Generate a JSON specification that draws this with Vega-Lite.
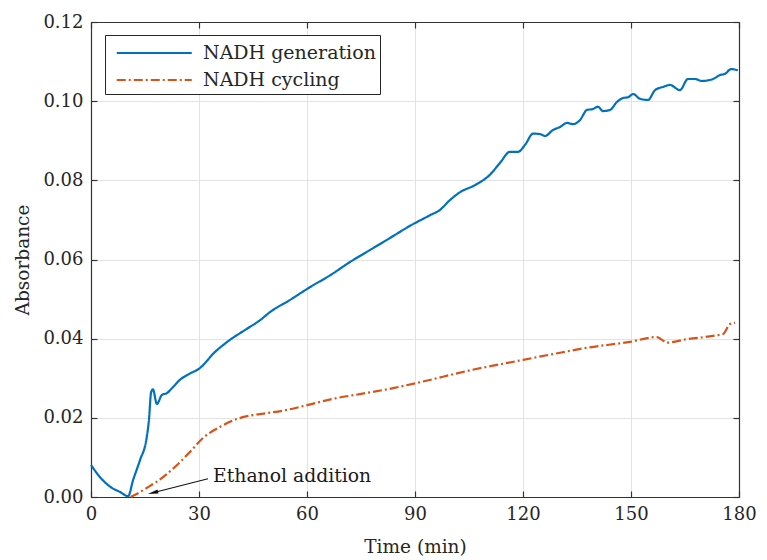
{
  "$schema": "https://vega.github.io/schema/vega-lite/v6.json",
  "width": 648,
  "height": 475,
  "autosize": {"type": "none"},
  "padding": {"left": 91, "top": 22, "right": 28, "bottom": 63},
  "config": {
    "font": "DejaVu Serif",
    "view": {"stroke": null},
    "axis": {
      "labelFont": "DejaVu Serif",
      "titleFont": "DejaVu Serif",
      "labelFontSize": 18,
      "titleFontSize": 18.5,
      "titleFontWeight": "normal",
      "labelColor": "#262626",
      "titleColor": "#262626",
      "domainColor": "#333333",
      "domainWidth": 1.2,
      "tickColor": "#333333",
      "tickWidth": 1.2,
      "tickSize": -6,
      "labelFlush": false,
      "gridColor": "#e3e3e3",
      "gridWidth": 1
    },
    "legend": {
      "labelFont": "DejaVu Serif",
      "labelFontSize": 19,
      "labelColor": "#262626",
      "labelLimit": 400
    }
  },
  "datasets": {
    "curves": [
      {"t": 0, "a": 0.0081, "s": "NADH generation"},
      {"t": 2.5, "a": 0.0050, "s": "NADH generation"},
      {"t": 5.8, "a": 0.0023, "s": "NADH generation"},
      {"t": 8, "a": 0.0013, "s": "NADH generation"},
      {"t": 10.3, "a": 0.0002, "s": "NADH generation"},
      {"t": 11.7, "a": 0.0043, "s": "NADH generation"},
      {"t": 13.6, "a": 0.0093, "s": "NADH generation"},
      {"t": 15.5, "a": 0.0152, "s": "NADH generation"},
      {"t": 16.1, "a": 0.0195, "s": "NADH generation"},
      {"t": 16.7, "a": 0.0265, "s": "NADH generation"},
      {"t": 17.2, "a": 0.0272, "s": "NADH generation"},
      {"t": 18.3, "a": 0.0235, "s": "NADH generation"},
      {"t": 19.7, "a": 0.0258, "s": "NADH generation"},
      {"t": 21, "a": 0.0262, "s": "NADH generation"},
      {"t": 22.8, "a": 0.0278, "s": "NADH generation"},
      {"t": 24.7, "a": 0.0296, "s": "NADH generation"},
      {"t": 27.5, "a": 0.0312, "s": "NADH generation"},
      {"t": 30, "a": 0.0324, "s": "NADH generation"},
      {"t": 34.4, "a": 0.0366, "s": "NADH generation"},
      {"t": 38.6, "a": 0.0397, "s": "NADH generation"},
      {"t": 42.8, "a": 0.0422, "s": "NADH generation"},
      {"t": 47, "a": 0.0447, "s": "NADH generation"},
      {"t": 49.7, "a": 0.0467, "s": "NADH generation"},
      {"t": 55.3, "a": 0.0498, "s": "NADH generation"},
      {"t": 60.8, "a": 0.0530, "s": "NADH generation"},
      {"t": 66.4, "a": 0.0560, "s": "NADH generation"},
      {"t": 72, "a": 0.0594, "s": "NADH generation"},
      {"t": 77.5, "a": 0.0624, "s": "NADH generation"},
      {"t": 83, "a": 0.0654, "s": "NADH generation"},
      {"t": 88.6, "a": 0.0685, "s": "NADH generation"},
      {"t": 94.2, "a": 0.0712, "s": "NADH generation"},
      {"t": 96.9, "a": 0.0725, "s": "NADH generation"},
      {"t": 99.7, "a": 0.0750, "s": "NADH generation"},
      {"t": 102.5, "a": 0.0770, "s": "NADH generation"},
      {"t": 106.7, "a": 0.0788, "s": "NADH generation"},
      {"t": 110.8, "a": 0.0814, "s": "NADH generation"},
      {"t": 113.6, "a": 0.0844, "s": "NADH generation"},
      {"t": 116.4, "a": 0.0872, "s": "NADH generation"},
      {"t": 118.6, "a": 0.0872, "s": "NADH generation"},
      {"t": 120.6, "a": 0.0890, "s": "NADH generation"},
      {"t": 122.8, "a": 0.0918, "s": "NADH generation"},
      {"t": 124.7, "a": 0.0917, "s": "NADH generation"},
      {"t": 126.1, "a": 0.0912, "s": "NADH generation"},
      {"t": 128.3, "a": 0.0927, "s": "NADH generation"},
      {"t": 130.3, "a": 0.0935, "s": "NADH generation"},
      {"t": 132.2, "a": 0.0945, "s": "NADH generation"},
      {"t": 133.9, "a": 0.0942, "s": "NADH generation"},
      {"t": 135.8, "a": 0.0952, "s": "NADH generation"},
      {"t": 137.8, "a": 0.0978, "s": "NADH generation"},
      {"t": 139.4, "a": 0.0980, "s": "NADH generation"},
      {"t": 140.8, "a": 0.0986, "s": "NADH generation"},
      {"t": 142.2, "a": 0.0975, "s": "NADH generation"},
      {"t": 144.2, "a": 0.0978, "s": "NADH generation"},
      {"t": 146.1, "a": 0.0998, "s": "NADH generation"},
      {"t": 147.8, "a": 0.1008, "s": "NADH generation"},
      {"t": 149.2, "a": 0.1010, "s": "NADH generation"},
      {"t": 150.6, "a": 0.1018, "s": "NADH generation"},
      {"t": 152.5, "a": 0.1006, "s": "NADH generation"},
      {"t": 154.7, "a": 0.1003, "s": "NADH generation"},
      {"t": 156.7, "a": 0.1028, "s": "NADH generation"},
      {"t": 158.9, "a": 0.1036, "s": "NADH generation"},
      {"t": 160.8, "a": 0.1041, "s": "NADH generation"},
      {"t": 163.6, "a": 0.1028, "s": "NADH generation"},
      {"t": 165.8, "a": 0.1056, "s": "NADH generation"},
      {"t": 167.8, "a": 0.1056, "s": "NADH generation"},
      {"t": 169.7, "a": 0.1051, "s": "NADH generation"},
      {"t": 172.8, "a": 0.1056, "s": "NADH generation"},
      {"t": 174.7, "a": 0.1066, "s": "NADH generation"},
      {"t": 176.1, "a": 0.1069, "s": "NADH generation"},
      {"t": 177.8, "a": 0.1081, "s": "NADH generation"},
      {"t": 179.7, "a": 0.1078, "s": "NADH generation"},
      {"t": 11, "a": 0.0, "s": "NADH cycling"},
      {"t": 11.7, "a": 0.0003, "s": "NADH cycling"},
      {"t": 15.5, "a": 0.0023, "s": "NADH cycling"},
      {"t": 20, "a": 0.0050, "s": "NADH cycling"},
      {"t": 23.9, "a": 0.0081, "s": "NADH cycling"},
      {"t": 27.5, "a": 0.0114, "s": "NADH cycling"},
      {"t": 31.1, "a": 0.0149, "s": "NADH cycling"},
      {"t": 35.8, "a": 0.0177, "s": "NADH cycling"},
      {"t": 40.5, "a": 0.0197, "s": "NADH cycling"},
      {"t": 45, "a": 0.0207, "s": "NADH cycling"},
      {"t": 48.9, "a": 0.0212, "s": "NADH cycling"},
      {"t": 54.4, "a": 0.0220, "s": "NADH cycling"},
      {"t": 60, "a": 0.0232, "s": "NADH cycling"},
      {"t": 67.2, "a": 0.0248, "s": "NADH cycling"},
      {"t": 74.7, "a": 0.0260, "s": "NADH cycling"},
      {"t": 83.9, "a": 0.0275, "s": "NADH cycling"},
      {"t": 91.4, "a": 0.0290, "s": "NADH cycling"},
      {"t": 105.3, "a": 0.0320, "s": "NADH cycling"},
      {"t": 119.2, "a": 0.0345, "s": "NADH cycling"},
      {"t": 128.3, "a": 0.0361, "s": "NADH cycling"},
      {"t": 137.8, "a": 0.0377, "s": "NADH cycling"},
      {"t": 149.7, "a": 0.0392, "s": "NADH cycling"},
      {"t": 157.2, "a": 0.0404, "s": "NADH cycling"},
      {"t": 158.6, "a": 0.0397, "s": "NADH cycling"},
      {"t": 160, "a": 0.0390, "s": "NADH cycling"},
      {"t": 165.6, "a": 0.0399, "s": "NADH cycling"},
      {"t": 172.8, "a": 0.0407, "s": "NADH cycling"},
      {"t": 175.6, "a": 0.0412, "s": "NADH cycling"},
      {"t": 177.5, "a": 0.0437, "s": "NADH cycling"},
      {"t": 178.9, "a": 0.0440, "s": "NADH cycling"}
    ],
    "note": [
      {"t": 33.9, "a": 0.0038, "label": "Ethanol addition"}
    ],
    "arrow": [
      {"t": 32.5, "a": 0.0046, "t2": 17.2, "a2": 0.00106}
    ],
    "head": [
      {"t": 17.2, "a": 0.00106}
    ]
  },
  "layer": [
    {
      "data": {"name": "curves"},
      "mark": {"type": "line", "strokeWidth": 2.2, "interpolate": "monotone"},
      "encoding": {
        "x": {
          "field": "t", "type": "quantitative",
          "scale": {"domain": [0, 180], "nice": false, "zero": false},
          "axis": {"orient": "bottom", "values": [0, 30, 60, 90, 120, 150, 180], "grid": true, "title": "Time (min)", "labelPadding": 14, "titlePadding": 14}
        },
        "y": {
          "field": "a", "type": "quantitative",
          "scale": {"domain": [0, 0.12], "nice": false},
          "axis": {"orient": "left", "values": [0, 0.02, 0.04, 0.06, 0.08, 0.1, 0.12], "format": ".2f", "grid": true, "title": "Absorbance", "labelPadding": 14, "titlePadding": 10}
        },
        "color": {
          "field": "s", "type": "nominal",
          "scale": {"domain": ["NADH generation", "NADH cycling"], "range": ["#0072BD", "#D95319"]},
          "legend": {
            "title": null, "orient": "none", "legendX": 14, "legendY": 13,
            "strokeColor": "#262626", "fillColor": "white", "padding": 4,
            "symbolType": "M-0.5,0L5.5,0", "symbolSize": 625, "symbolStrokeWidth": 2.2,
            "labelOffset": 66, "rowPadding": 3, "labelLimit": 400
          }
        },
        "strokeDash": {
          "field": "s", "type": "nominal",
          "scale": {"domain": ["NADH generation", "NADH cycling"], "range": [[1, 0], [9, 3, 2, 3]]},
          "legend": {
            "title": null, "orient": "none", "legendX": 14, "legendY": 13,
            "strokeColor": "#262626", "fillColor": "white", "padding": 4,
            "symbolType": "M-0.5,0L5.5,0", "symbolSize": 625, "symbolStrokeWidth": 2.2,
            "labelOffset": 66, "rowPadding": 3, "labelLimit": 400
          }
        }
      }
    },
    {
      "data": {"name": "curves"},
      "mark": {"type": "line", "strokeOpacity": 0},
      "encoding": {
        "x": {
          "field": "t", "type": "quantitative",
          "axis": {"orient": "top", "values": [0, 30, 60, 90, 120, 150, 180], "labels": false, "grid": false, "title": null}
        },
        "y": {
          "field": "a", "type": "quantitative",
          "axis": {"orient": "right", "values": [0, 0.02, 0.04, 0.06, 0.08, 0.1, 0.12], "labels": false, "grid": false, "title": null}
        }
      }
    },
    {
      "data": {"name": "arrow"},
      "mark": {"type": "rule", "color": "#111111", "strokeWidth": 1.1},
      "encoding": {
        "x": {"field": "t", "type": "quantitative", "axis": null},
        "y": {"field": "a", "type": "quantitative", "axis": null},
        "x2": {"field": "t2"},
        "y2": {"field": "a2"}
      }
    },
    {
      "data": {"name": "head"},
      "mark": {"type": "point", "shape": "M-1,0L1,-0.4L1,0.4Z", "filled": true, "color": "#111111", "size": 110, "angle": 346, "opacity": 1},
      "encoding": {
        "x": {"field": "t", "type": "quantitative", "axis": null},
        "y": {"field": "a", "type": "quantitative", "axis": null}
      }
    },
    {
      "data": {"name": "note"},
      "mark": {"type": "text", "align": "left", "baseline": "alphabetic", "fontSize": 18.8, "color": "#1a1a1a", "font": "DejaVu Serif"},
      "encoding": {
        "x": {"field": "t", "type": "quantitative", "axis": null},
        "y": {"field": "a", "type": "quantitative", "axis": null},
        "text": {"field": "label"}
      }
    }
  ],
  "resolve": {"axis": {"x": "independent", "y": "independent"}}
}
